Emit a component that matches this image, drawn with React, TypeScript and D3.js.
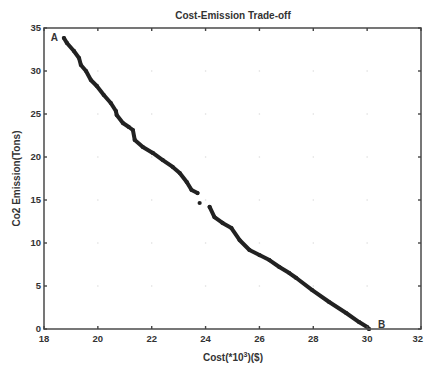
import React from "react";
import * as d3 from "d3";

const title = "Cost-Emission Trade-off";
const xLabel = "Cost(*10";
const yLabel = "Co2 Emission(Tons)";
const xTicks = [18, 20, 22, 24, 26, 28, 30, 32];
const yTicks = [0, 5, 10, 15, 20, 25, 30, 35];

// Pareto front points (cost in 10^3 $, emission in tons)
const costs = [
  18.74, 18.85, 19.11, 19.3, 19.37, 19.56, 19.74, 19.96, 20.22, 20.48, 20.67, 20.7,
  20.93, 21.15, 21.3, 21.37, 21.67, 22.04, 22.41, 22.78, 23.04, 23.3, 23.48, 23.7,
  23.78,
  24.15, 24.33, 24.63, 24.96, 25.26, 25.63, 26.0, 26.37, 26.74, 27.11, 27.37, 27.96,
  28.59, 29.22, 29.7, 30.0, 30.07,
];
const emissions = [
  33.84, 33.26, 32.33, 31.51, 30.7, 30.0, 28.95, 28.26, 27.21, 26.28, 25.35, 24.88,
  23.95, 23.49, 23.14, 21.98, 21.16, 20.47, 19.65, 18.84, 18.14, 17.09, 16.16, 15.81,
  14.65,
  14.19, 13.02, 12.33, 11.74, 10.35, 9.19, 8.6, 8.02, 7.21, 6.51, 5.93, 4.53,
  3.14, 1.86, 0.81, 0.23, 0.0,
];
// segment id of each point (gaps between runs of solutions)
const segmentOf = [
  0, 0, 0, 0, 0, 0, 0, 0, 0, 0, 0, 0, 0, 0, 0, 0, 0, 0, 0, 0, 0, 0, 0, 0,
  1,
  2, 2, 2, 2, 2, 2, 2, 2, 2, 2, 2, 2, 2, 2, 2, 2, 2,
];
const labelA = { text: "A", cost: 18.25, emission: 33.9 };
const labelB = { text: "B", cost: 30.4, emission: 0.6 };

const W = 424;
const H = 365;
const M = { left: 44, right: 421, top: 28, bottom: 329 };
const FONT = "'Liberation Sans', Arial, sans-serif";
const TXT = "#333";

export default function App() {
  const x = d3.scaleLinear().domain([18, 32]).range([M.left, M.right]);
  const y = d3.scaleLinear().domain([0, 35]).range([M.bottom, M.top]);
  const pts = costs.map((c, i) => ({ c, e: emissions[i], s: segmentOf[i] }));
  const segs = d3.groups(pts, (p) => p.s).map((g) => g[1]);
  const line = d3
    .line<{ c: number; e: number }>()
    .x((p) => x(p.c))
    .y((p) => y(p.e))
    .curve(d3.curveLinear);

  return (
    <svg
      width={W}
      height={H}
      style={{ position: "absolute", left: 0, top: 0, background: "#fff" }}
      fontFamily={FONT}
    >
      <rect x={0} y={0} width={W} height={H} fill="#fff" />
      {/* grid intersection dots */}
      {xTicks.slice(1, -1).map((tx) =>
        yTicks.slice(1, -1).map((ty) => (
          <circle key={`g${tx}-${ty}`} cx={x(tx)} cy={y(ty)} r={0.8} fill="#ddd" />
        ))
      )}
      {/* data */}
      {segs.map((s, i) =>
        s.length > 1 ? (
          <path
            key={`s${i}`}
            d={line(s) || ""}
            fill="none"
            stroke="#222"
            strokeWidth={4}
            strokeLinejoin="round"
            strokeLinecap="round"
          />
        ) : null
      )}
      {pts.map((p, i) => (
        <circle key={`p${i}`} cx={x(p.c)} cy={y(p.e)} r={2.1} fill="#222" />
      ))}
      {/* box */}
      <rect
        x={M.left}
        y={M.top}
        width={M.right - M.left}
        height={M.bottom - M.top}
        fill="none"
        stroke="#555"
        strokeWidth={1.6}
      />
      {/* ticks */}
      {xTicks.map((t, i) => {
        const last = i === xTicks.length - 1;
        return (
          <g key={`xt${t}`}>
            <line x1={x(t)} x2={x(t)} y1={M.bottom} y2={M.bottom - 3} stroke="#444" strokeWidth={1.4} />
            <line x1={x(t)} x2={x(t)} y1={M.top} y2={M.top + 3} stroke="#444" strokeWidth={1.4} />
            <text
              x={last ? W - 1 : x(t)}
              y={M.bottom + 13}
              textAnchor={last ? "end" : "middle"}
              fontSize={9.5}
              fontWeight="bold"
              fill={TXT}
            >
              {t}
            </text>
          </g>
        );
      })}
      {yTicks.map((t) => (
        <g key={`yt${t}`}>
          <line x1={M.left} x2={M.left + 3} y1={y(t)} y2={y(t)} stroke="#444" strokeWidth={1.4} />
          <line x1={M.right} x2={M.right - 3} y1={y(t)} y2={y(t)} stroke="#444" strokeWidth={1.4} />
          <text
            x={M.left - 3}
            y={y(t) + 3.3}
            textAnchor="end"
            fontSize={9.5}
            fontWeight="bold"
            fill={TXT}
          >
            {t}
          </text>
        </g>
      ))}
      {/* point labels */}
      <text x={x(labelA.cost)} y={y(labelA.emission) + 4} fontSize={10} fontWeight="bold" fill={TXT}>
        {labelA.text}
      </text>
      <text x={x(labelB.cost)} y={y(labelB.emission) + 4} fontSize={10} fontWeight="bold" fill={TXT}>
        {labelB.text}
      </text>
      {/* title & axis labels */}
      <text x={233} y={19} textAnchor="middle" fontSize={10} fontWeight="bold" fill={TXT}>
        {title}
      </text>
      <text x={233} y={361} textAnchor="middle" fontSize={10} fontWeight="bold" fill={TXT}>
        {xLabel}
        <tspan dy={-4} fontSize={7}>3</tspan>
        <tspan dy={4}>)($)</tspan>
      </text>
      <text
        transform={`translate(20,${(M.top + M.bottom) / 2}) rotate(-90)`}
        textAnchor="middle"
        fontSize={10}
        fontWeight="bold"
        fill={TXT}
      >
        {yLabel}
      </text>
    </svg>
  );
}
